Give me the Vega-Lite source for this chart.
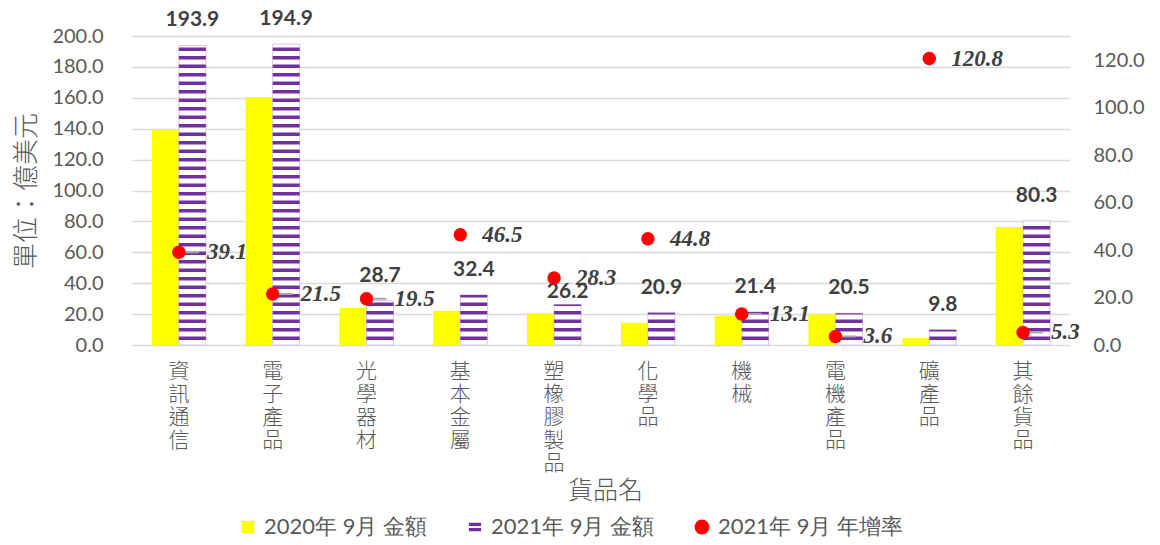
{
  "$schema": "https://vega.github.io/schema/vega-lite/v6.json",
  "width": 938,
  "height": 309,
  "autosize": {"type": "none"},
  "padding": {"left": 132, "top": 36, "right": 90, "bottom": 200},
  "data": {
    "values": [
      {"cat": "資訊通信", "series": "2020年 9月 金額", "value": 139.4},
      {"cat": "電子產品", "series": "2020年 9月 金額", "value": 160.4},
      {"cat": "光學器材", "series": "2020年 9月 金額", "value": 24.0},
      {"cat": "基本金屬", "series": "2020年 9月 金額", "value": 22.1},
      {"cat": "塑橡膠製品", "series": "2020年 9月 金額", "value": 20.4},
      {"cat": "化學品", "series": "2020年 9月 金額", "value": 14.4},
      {"cat": "機 械", "series": "2020年 9月 金額", "value": 18.9},
      {"cat": "電機產品", "series": "2020年 9月 金額", "value": 19.8},
      {"cat": "礦產品", "series": "2020年 9月 金額", "value": 4.4},
      {"cat": "其餘貨品", "series": "2020年 9月 金額", "value": 76.3},
      {"cat": "資訊通信", "series": "2021年 9月 金額", "value": 193.9},
      {"cat": "電子產品", "series": "2021年 9月 金額", "value": 194.9},
      {"cat": "光學器材", "series": "2021年 9月 金額", "value": 28.7},
      {"cat": "基本金屬", "series": "2021年 9月 金額", "value": 32.4},
      {"cat": "塑橡膠製品", "series": "2021年 9月 金額", "value": 26.2},
      {"cat": "化學品", "series": "2021年 9月 金額", "value": 20.9},
      {"cat": "機 械", "series": "2021年 9月 金額", "value": 21.4},
      {"cat": "電機產品", "series": "2021年 9月 金額", "value": 20.5},
      {"cat": "礦產品", "series": "2021年 9月 金額", "value": 9.8},
      {"cat": "其餘貨品", "series": "2021年 9月 金額", "value": 80.3},
      {"cat": "資訊通信", "series": "2021年 9月 年增率", "value": 39.1},
      {"cat": "電子產品", "series": "2021年 9月 年增率", "value": 21.5},
      {"cat": "光學器材", "series": "2021年 9月 年增率", "value": 19.5},
      {"cat": "基本金屬", "series": "2021年 9月 年增率", "value": 46.5},
      {"cat": "塑橡膠製品", "series": "2021年 9月 年增率", "value": 28.3},
      {"cat": "化學品", "series": "2021年 9月 年增率", "value": 44.8},
      {"cat": "機 械", "series": "2021年 9月 年增率", "value": 13.1},
      {"cat": "電機產品", "series": "2021年 9月 年增率", "value": 3.6},
      {"cat": "礦產品", "series": "2021年 9月 年增率", "value": 120.8},
      {"cat": "其餘貨品", "series": "2021年 9月 年增率", "value": 5.3}
    ]
  },
  "encoding": {
    "x": {
      "field": "cat",
      "type": "nominal",
      "sort": null,
      "scale": {
        "domain": ["資訊通信", "電子產品", "光學器材", "基本金屬", "塑橡膠製品", "化學品", "機 械", "電機產品", "礦產品", "其餘貨品"],
        "paddingInner": 0,
        "paddingOuter": 0
      },
      "axis": {
        "title": "貨品名",
        "titleFont": "Noto Sans CJK TC",
        "titleFontSize": 25,
        "titleFontWeight": 300,
        "titleColor": "#595959",
        "titleX": 473,
        "titleY": 145,
        "titleBaseline": "middle",
        "titleAlign": "center",
        "labelAngle": 0,
        "labelBaseline": "top",
        "labelAlign": "center",
        "labelPadding": 15,
        "labelFont": "Noto Sans CJK TC",
        "labelFontSize": 21,
        "labelFontWeight": 300,
        "labelLineHeight": 23,
        "labelColor": "#595959",
        "labelExpr": "split(datum.label, '')",
        "labelOverlap": false,
        "labelLimit": 0,
        "ticks": false,
        "tickSize": 0,
        "domain": false,
        "grid": false
      }
    }
  },
  "layer": [
    {
      "encoding": {
        "y": {
          "field": "value",
          "type": "quantitative",
          "scale": {"domain": [0, 200], "nice": false, "zero": true},
          "axis": {
            "orient": "left",
            "title": "單位：億美元",
            "values": [0, 20, 40, 60, 80, 100, 120, 140, 160, 180, 200],
            "format": ".1f",
            "grid": true,
            "gridColor": "#D9D9D9",
            "gridWidth": 1.5,
            "domain": false,
            "ticks": false,
            "tickSize": 0,
            "labelPadding": 29,
            "labelFont": "Lato",
            "labelFontSize": 20,
            "labelColor": "#595959",
            "titleFont": "Noto Sans CJK TC",
            "titleFontSize": 26,
            "titleFontWeight": 300,
            "titleColor": "#595959",
            "titleAngle": 270,
            "titleX": -106,
            "titleY": 154.5,
            "titleBaseline": "middle",
            "titleAlign": "center"
          }
        }
      },
      "layer": [
        {
          "transform": [{"filter": "datum.series === '2020年 9月 金額'"}],
          "mark": {"type": "bar", "width": 27, "xOffset": -13.5},
          "encoding": {
            "color": {
              "field": "series",
              "type": "nominal",
              "scale": {
                "domain": ["2020年 9月 金額", "2021年 9月 金額", "2021年 9月 年增率"],
                "range": ["#FFFF00", "#7030A0", "#FF0000"]
              },
              "legend": {
                "orient": "none",
                "legendX": 105,
                "legendY": 480,
                "direction": "horizontal",
                "title": null,
                "labelFont": "Lato",
                "labelFontSize": 22,
                "labelColor": "#595959",
                "labelOffset": 5,
                "labelLimit": 0,
                "columnPadding": 36,
                "padding": 0,
                "symbolStrokeWidth": 0,
                "encode": {
                  "symbols": {
                    "update": {
                      "shape": {"signal": "datum.value === '2021年 9月 年增率' ? 'circle' : (datum.value === '2021年 9月 金額' ? 'M-1,-0.7H1V-0.15H-1Z M-1,0.15H1V0.7H-1Z' : 'square')"},
                      "size": {"signal": "datum.value === '2021年 9月 年增率' ? 220 : 150"},
                      "strokeWidth": {"value": 0}
                    }
                  }
                }
              }
            }
          }
        },
        {
          "transform": [{"filter": "datum.series === '2021年 9月 金額'"}],
          "mark": {"type": "bar", "width": 27, "xOffset": 13.5, "fill": "#FFFFFF", "stroke": "#CDBBE0", "strokeWidth": 0.8}
        },
        {
          "transform": [{"filter": "datum.series === '2021年 9月 金額'"}],
          "mark": {"type": "rule", "xOffset": 13.5, "strokeWidth": 27, "strokeDash": [3.5, 5], "strokeDashOffset": 3.5, "color": "#7030A0", "strokeCap": "butt"},
          "encoding": {
            "y": {"datum": 0, "type": "quantitative"},
            "y2": {"field": "value"}
          }
        },
        {
          "transform": [{"filter": "datum.series === '2021年 9月 金額' && datum.cat !== '塑橡膠製品'"}],
          "mark": {"type": "text", "xOffset": 13.5, "dy": -25, "baseline": "middle", "align": "center", "font": "Lato", "fontWeight": "bold", "fontSize": 21, "color": "#404040"},
          "encoding": {
            "text": {"field": "value", "type": "quantitative", "format": ".1f"}
          }
        },
        {
          "transform": [{"filter": "datum.series === '2021年 9月 金額' && datum.cat === '塑橡膠製品'"}],
          "mark": {"type": "text", "xOffset": 13.5, "dy": -13, "baseline": "middle", "align": "center", "font": "Lato", "fontWeight": "bold", "fontSize": 21, "color": "#404040"},
          "encoding": {
            "text": {"field": "value", "type": "quantitative", "format": ".1f"}
          }
        }
      ]
    },
    {
      "transform": [{"filter": "datum.series === '2021年 9月 年增率'"}],
      "encoding": {
        "y": {
          "field": "value",
          "type": "quantitative",
          "scale": {"domain": [0, 130.3], "nice": false, "zero": true},
          "axis": {
            "orient": "right",
            "title": null,
            "values": [0, 20, 40, 60, 80, 100, 120],
            "format": ".1f",
            "grid": false,
            "domain": false,
            "ticks": false,
            "tickSize": 0,
            "labelPadding": 23,
            "labelFont": "Lato",
            "labelFontSize": 20,
            "labelColor": "#595959"
          }
        }
      },
      "layer": [
        {
          "transform": [
            {"filter": {"field": "cat", "oneOf": ["資訊通信", "電子產品", "光學器材", "機 械", "電機產品", "其餘貨品"]}}
          ],
          "mark": {"type": "tick", "orient": "horizontal", "size": 20, "thickness": 2, "xOffset": 10, "color": "#A6A6A6", "opacity": 1}
        },
        {
          "mark": {"type": "point", "filled": true, "shape": "circle", "size": 180, "color": "#FF0000", "opacity": 1}
        },
        {
          "transform": [
            {"filter": {"field": "cat", "oneOf": ["資訊通信", "電子產品", "光學器材", "機 械", "電機產品", "其餘貨品"]}}
          ],
          "mark": {"type": "text", "dx": 28, "align": "left", "baseline": "middle", "font": "Liberation Serif", "fontStyle": "italic", "fontWeight": "bold", "fontSize": 23, "color": "#404040"},
          "encoding": {
            "text": {"field": "value", "type": "quantitative", "format": ".1f"}
          }
        },
        {
          "transform": [
            {"filter": {"not": {"field": "cat", "oneOf": ["資訊通信", "電子產品", "光學器材", "機 械", "電機產品", "其餘貨品"]}}}
          ],
          "mark": {"type": "text", "dx": 22, "align": "left", "baseline": "middle", "font": "Liberation Serif", "fontStyle": "italic", "fontWeight": "bold", "fontSize": 23, "color": "#404040"},
          "encoding": {
            "text": {"field": "value", "type": "quantitative", "format": ".1f"}
          }
        }
      ]
    }
  ],
  "resolve": {"scale": {"y": "independent"}, "axis": {"y": "independent"}},
  "config": {
    "view": {"stroke": null},
    "font": "Lato",
    "background": "#FFFFFF"
  }
}
